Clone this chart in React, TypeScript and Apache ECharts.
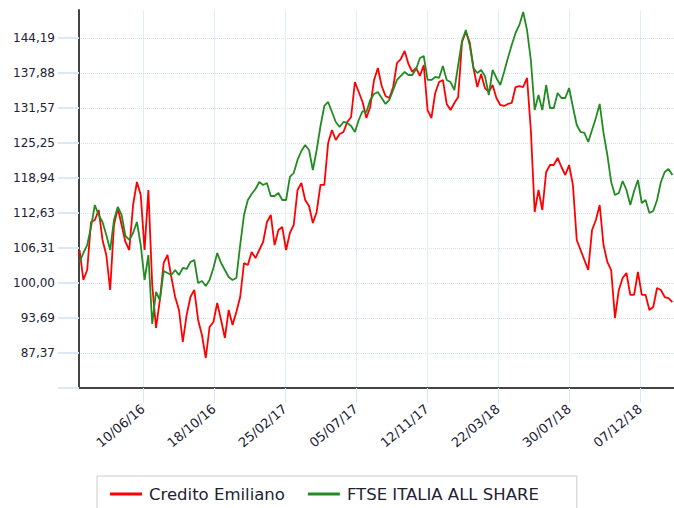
import { useEffect, useRef } from 'react';
import * as echarts from 'echarts';

// Weekly samples (first sample date, step in days)
const START_DATE = '2016-02-15';
const STEP_DAYS = 7;
const AXIS_START = '2016-02-14';
const AXIS_END = '2019-02-07';

const X_TICKS = ['2016-06-10', '2016-10-18', '2017-02-25', '2017-07-05', '2017-11-12', '2018-03-22', '2018-07-30', '2018-12-07'];
const Y_TICKS = [87.37, 93.69, 100.0, 106.31, 112.63, 118.94, 125.25, 131.57, 137.88, 144.19];
const Y_MIN = 81.06;
const Y_MAX = 149.24;

const SERIES_NAMES = ['Credito Emiliano', 'FTSE ITALIA ALL SHARE'];

const CREDITO_EMILIANO = [
  105.95, 100.54, 102.34, 111.0, 111.36, 113.17, 107.76, 105.05, 98.74, 110.46,
  113.53, 110.46, 107.4, 105.95, 114.07, 118.22, 115.87, 105.95, 116.77, 99.64,
  91.88, 96.93, 103.61, 105.05, 101.08, 97.47, 95.13, 89.36, 94.23, 97.47,
  98.74, 93.33, 90.62, 86.47, 92.06, 92.97, 96.39, 93.33, 90.08, 95.13,
  92.42, 94.77, 97.47, 103.61, 103.25, 105.59, 104.51, 105.95, 107.4, 111.0,
  112.27, 106.85, 109.56, 110.1, 105.95, 109.02, 110.46, 116.77, 118.04, 114.97,
  113.89, 110.82, 112.81, 117.68, 117.68, 125.25, 127.6, 125.79, 126.88, 127.24,
  129.04, 129.94, 136.25, 134.45, 132.65, 129.76, 131.75, 136.62, 138.78, 135.53,
  133.73, 133.37, 135.35, 139.68, 140.4, 141.85, 139.5, 138.06, 138.78, 137.34,
  139.32, 131.2, 129.76, 134.27, 136.25, 136.62, 132.29, 131.2, 132.47, 133.55,
  143.47, 145.27, 143.47, 138.78, 135.35, 137.7, 135.17, 134.45, 135.71, 133.37,
  132.11, 131.93, 132.29, 132.47, 135.35, 135.53, 135.35, 136.98, 127.6, 112.81,
  116.77, 113.17, 120.02, 121.28, 121.28, 122.55, 120.92, 119.48, 121.28, 117.68,
  107.76, 105.95, 104.15, 102.34, 109.56, 111.36, 114.07, 106.85, 103.79, 102.34,
  93.69, 98.74, 100.9, 101.8, 97.84, 97.84, 101.98, 97.84, 97.84, 95.13,
  95.67, 99.1, 98.74, 97.47, 97.29, 96.57,
];

const FTSE_ITALIA_ALL_SHARE = [
  103.79, 105.41, 106.85, 110.1, 114.07, 112.27, 111.0, 108.66, 105.95, 111.36,
  113.71, 112.27, 108.48, 107.76, 109.02, 111.0, 106.85, 100.54, 105.05, 92.61,
  98.38, 96.93, 102.16, 101.8, 101.44, 102.34, 101.44, 102.71, 102.53, 103.79,
  104.15, 100.0, 100.36, 99.46, 100.54, 102.71, 105.41, 103.61, 102.34, 101.08,
  100.54, 100.9, 106.85, 112.27, 114.97, 116.05, 116.95, 118.22, 117.68, 118.04,
  115.69, 115.69, 116.23, 114.97, 114.97, 119.12, 119.84, 122.19, 123.81, 124.89,
  123.99, 120.38, 123.99, 128.32, 131.93, 132.65, 130.84, 129.04, 128.14, 129.04,
  128.86, 128.32, 127.24, 129.4, 131.02, 130.84, 133.01, 134.09, 134.45, 133.37,
  132.29, 133.01, 134.81, 136.62, 137.34, 138.06, 137.52, 137.52, 138.6, 140.58,
  140.94, 136.62, 136.62, 137.16, 136.98, 139.14, 136.62, 136.25, 134.81, 139.32,
  143.65, 145.63, 142.93, 138.78, 137.88, 138.42, 137.34, 133.91, 138.42, 136.98,
  135.71, 138.06, 140.58, 142.93, 145.09, 146.54, 148.88, 145.63, 140.22, 131.2,
  133.91, 131.2, 135.71, 131.56, 131.56, 134.27, 133.37, 133.37, 135.17, 131.75,
  128.5, 127.24, 127.06, 125.43, 127.6, 129.76, 132.29, 127.06, 123.09, 118.22,
  115.87, 116.23, 118.4, 116.77, 114.07, 116.59, 118.58, 114.43, 114.97, 112.63,
  112.99, 114.97, 118.22, 120.02, 120.56, 119.48,
];

const DAY_MS = 86400000;
const ts = (s: string) => Date.parse(s + 'T00:00:00Z');
const withDates = (vals: number[]) =>
  vals.map((v, i) => [ts(START_DATE) + i * STEP_DAYS * DAY_MS, v]);
const pad2 = (n: number) => (n < 10 ? '0' + n : '' + n);
const fmtDate = (val: number) => {
  const d = new Date(val);
  return pad2(d.getUTCDate()) + '/' + pad2(d.getUTCMonth() + 1) + '/' + pad2(d.getUTCFullYear() % 100);
};

const FONT = 'DejaVu Sans';

export default function App() {
  const ref = useRef<HTMLDivElement>(null);
  useEffect(() => {
    if (!ref.current) return;
    const chart = echarts.init(ref.current, undefined, { renderer: 'svg' });
    const xTicks = X_TICKS.map(ts);
    chart.setOption({
      animation: false,
      backgroundColor: '#ffffff',
      grid: { left: 79, right: 0, top: 10, bottom: 120 },
      xAxis: {
        type: 'value',
        min: ts(AXIS_START),
        max: ts(AXIS_END),
        axisLine: { show: true, onZero: false, lineStyle: { color: '#444444', width: 2 } },
        axisTick: { show: true, length: 15, customValues: xTicks, lineStyle: { color: '#dce7f6', width: 1 } },
        axisLabel: {
          customValues: xTicks,
          formatter: (v: number) => fmtDate(v),
          rotate: 40,
          margin: 19,
          fontSize: 13,
          fontFamily: FONT,
          color: '#222233',
          hideOverlap: false,
        },
        splitLine: { show: true, lineStyle: { color: '#e2ebf8', width: 1 } },
      },
      yAxis: {
        type: 'value',
        min: Y_MIN,
        max: Y_MAX,
        axisLine: { show: true, lineStyle: { color: '#444444', width: 2 } },
        axisTick: { show: true, length: 21, customValues: [Y_MIN, ...Y_TICKS], lineStyle: { color: '#dde8f7', width: 2 } },
        axisLabel: {
          customValues: Y_TICKS,
          formatter: (v: number) => v.toFixed(2).replace('.', ','),
          margin: 24,
          fontSize: 12,
          fontFamily: FONT,
          color: '#222233',
        },
        splitLine: { show: true, lineStyle: { color: '#d3e0f2', width: 1, type: 'dotted' } },
      },
      legend: {
        left: 97,
        top: 476,
        icon: 'rect',
        itemWidth: 32,
        itemHeight: 3,
        itemGap: 23,
        padding: [8, 38, 8, 13],
        borderColor: '#cccccc',
        borderWidth: 1,
        backgroundColor: '#ffffff',
        textStyle: { fontSize: 16.5, fontFamily: FONT, color: '#222233', lineHeight: 20, padding: [0, 0, 0, 2] },
        data: SERIES_NAMES,
      },
      series: [
        {
          name: SERIES_NAMES[0],
          type: 'line',
          data: withDates(CREDITO_EMILIANO),
          symbol: 'none',
          lineStyle: { color: '#ff0000', width: 1.8 },
          itemStyle: { color: '#ff0000' },
        },
        {
          name: SERIES_NAMES[1],
          type: 'line',
          data: withDates(FTSE_ITALIA_ALL_SHARE),
          symbol: 'none',
          lineStyle: { color: '#228b22', width: 1.8 },
          itemStyle: { color: '#228b22' },
        },
      ],
    });
    return () => chart.dispose();
  }, []);
  return (
    <div
      ref={ref}
      style={{ position: 'fixed', left: 0, top: 0, width: 674, height: 508, background: '#fff' }}
    />
  );
}
